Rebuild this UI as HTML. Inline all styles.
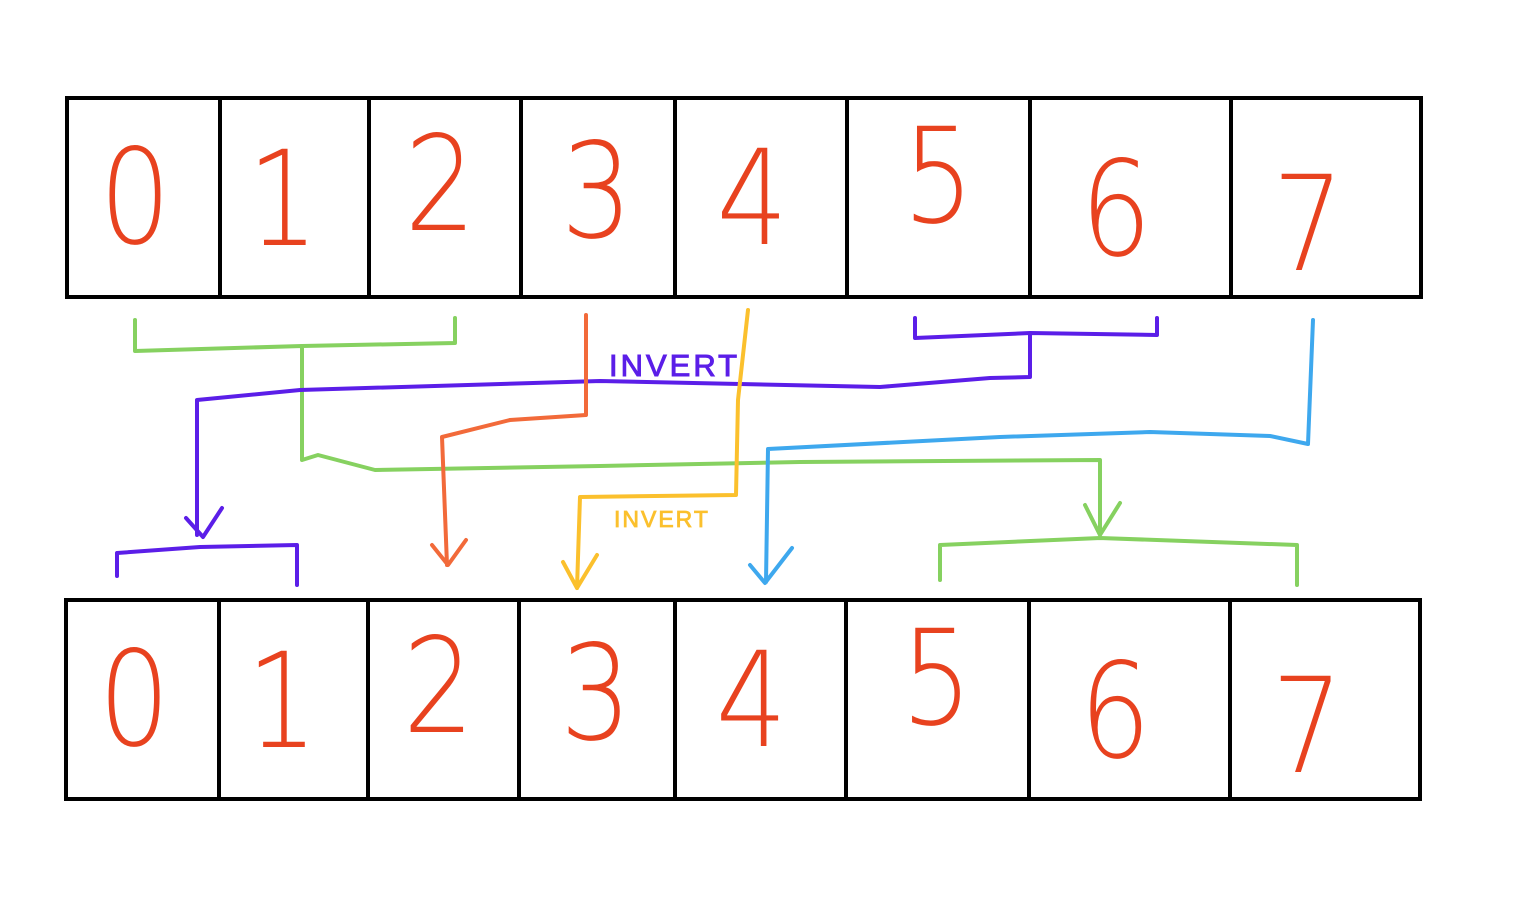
<!DOCTYPE html>
<html><head><meta charset="utf-8"><style>
html,body{margin:0;padding:0;background:#fff;}
svg{display:block;}
.box{fill:none;stroke:#000;stroke-width:4;}
.dig{font-family:"DejaVu Sans","Liberation Sans",sans-serif;font-weight:200;font-size:132px;fill:#e8421f;text-anchor:middle;}
.ln{fill:none;stroke-width:4;stroke-linejoin:round;stroke-linecap:round;}
</style></head><body>
<svg width="1516" height="924" viewBox="0 0 1516 924">
<g>
<rect class="box" x="67" y="98" width="1354" height="199"/>
<path class="box" d="M220 98V297M369 98V297M521 98V297M675 98V297M847 98V297M1030 98V297M1231 98V297"/>
<g transform="scale(0.85,1)">
<text class="dig" x="159" y="243">0</text>
<text class="dig" x="333" y="245">1</text>
<text class="dig" x="518" y="230">2</text>
<text class="dig" x="702" y="237">3</text>
<text class="dig" x="885" y="244">4</text>
<text class="dig" x="1104" y="222">5</text>
<text class="dig" x="1313" y="255">6</text>
<text class="dig" x="1539" y="270">7</text>
</g>
</g>
<g>
<rect class="box" x="66" y="600" width="1354" height="199"/>
<path class="box" d="M219 600V799M368 600V799M519 600V799M675 600V799M846 600V799M1029 600V799M1230 600V799"/>
<g transform="scale(0.85,1)">
<text class="dig" x="158" y="745">0</text>
<text class="dig" x="332" y="747">1</text>
<text class="dig" x="516" y="732">2</text>
<text class="dig" x="701" y="739">3</text>
<text class="dig" x="884" y="746">4</text>
<text class="dig" x="1102" y="724">5</text>
<text class="dig" x="1312" y="757">6</text>
<text class="dig" x="1538" y="772">7</text>
</g>
</g>
<g>
<path class="ln" stroke="#86d160" d="M135 320V351L302 346L455 343V318M302 346V460L318 455L375 470L600 466L800 462L1100 460V535M1085 505L1100 535L1120 503"/>
<path class="ln" stroke="#86d160" d="M940 580V545L1100 538L1297 545V585"/>
</g>
<g>
<path class="ln" stroke="#5b1ee8" d="M915 318V338L1030 333L1157 335V318M1030 333V377L990 378L880 387L600 381L300 390L197 400V535M186 518L203 537L222 508"/>
<path class="ln" stroke="#5b1ee8" d="M117 576V553L200 547L297 545V585"/>
<text x="609" y="376" font-family="Liberation Sans,sans-serif" font-size="31" fill="#5b1ee8" stroke="#5b1ee8" stroke-width="1" letter-spacing="3">INVERT</text>
</g>
<g>
<path class="ln" stroke="#f26a3a" d="M586 315V415L510 420L442 437L447 565M432 545L448 565L466 540"/>
</g>
<g>
<path class="ln" stroke="#fbc02d" d="M748 310L738 400L736 495L580 497L577 588M563 562L577 588L597 555"/>
<text x="614" y="527" font-family="Liberation Sans,sans-serif" font-size="23" fill="#fbc02d" stroke="#fbc02d" stroke-width="0.8" letter-spacing="2">INVERT</text>
</g>
<g>
<path class="ln" stroke="#3ea8ee" d="M1313 320L1308 444L1270 436L1150 432L1000 437L768 449L766 582M750 565L765 583L792 548"/>
</g>
</svg>
</body></html>
